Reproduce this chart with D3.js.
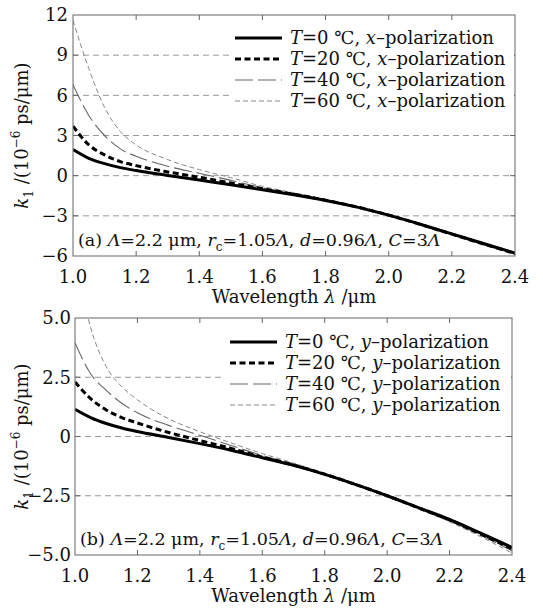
<!DOCTYPE html>
<html>
<head>
<meta charset="utf-8">
<script src="https://cdn.jsdelivr.net/npm/d3@7"></script>
<style>
  body { margin: 0; background: #fff; }
  svg text { font-family: "DejaVu Serif", serif; fill: #111; }
</style>
</head>
<body>
<svg id="chart" width="543" height="612"></svg>
<script>
// wavelength samples (um)
const wavelengths = [1.0, 1.05, 1.1, 1.15, 1.2, 1.3, 1.4, 1.5, 1.6, 1.7, 1.8, 1.9, 2.0, 2.1, 2.2, 2.3, 2.4];
const xTicks = [1.0, 1.2, 1.4, 1.6, 1.8, 2.0, 2.2, 2.4];
const temps = [0, 20, 40, 60];

// (a) x-polarization, k1 in 1e-6 ps/um
const kxT0 = [1.95, 1.3, 0.9, 0.6, 0.38, 0.02, -0.33, -0.68, -1.05, -1.43, -1.85, -2.35, -2.95, -3.63, -4.35, -5.07, -5.78];
const kxT20 = [3.7, 2.3, 1.55, 1.05, 0.75, 0.28, -0.12, -0.55, -0.98, -1.39, -1.83, -2.34, -2.95, -3.64, -4.37, -5.1, -5.81];
const kxT40 = [6.8, 4.5, 3.0, 2.0, 1.45, 0.7, 0.18, -0.35, -0.9, -1.34, -1.8, -2.33, -2.95, -3.65, -4.39, -5.12, -5.85];
const kxT60 = [11.6, 8.0, 5.1, 3.3, 2.3, 1.2, 0.45, -0.15, -0.8, -1.28, -1.77, -2.31, -2.96, -3.67, -4.42, -5.16, -5.9];
const yTicksA = [-6, -3, 0, 3, 6, 9, 12];

// (b) y-polarization
const kyT0 = [1.15, 0.8, 0.55, 0.36, 0.21, -0.04, -0.3, -0.58, -0.9, -1.22, -1.6, -2.03, -2.5, -3.0, -3.5, -4.08, -4.68];
const kyT20 = [2.3, 1.6, 1.12, 0.8, 0.57, 0.17, -0.17, -0.5, -0.87, -1.2, -1.59, -2.03, -2.5, -3.01, -3.52, -4.12, -4.74];
const kyT40 = [3.95, 2.65, 1.95, 1.4, 1.0, 0.47, 0.05, -0.38, -0.8, -1.16, -1.57, -2.02, -2.51, -3.03, -3.56, -4.17, -4.82];
const kyT60 = [7.6, 4.6, 2.95, 2.1, 1.55, 0.75, 0.2, -0.27, -0.72, -1.12, -1.55, -2.01, -2.52, -3.05, -3.6, -4.23, -4.92];
const yTicksB = [-5, -2.5, 0, 2.5, 5];

// line look per temperature
const styles = [
  {stroke: '#000', width: 3, dash: null},
  {stroke: '#000', width: 3, dash: '6,3.5'},
  {stroke: '#666', width: 1.1, dash: '18,5'},
  {stroke: '#888', width: 1, dash: '5,3'}
];

const svg = d3.select('#chart');

function drawPanel(cfg) {
  const x = d3.scaleLinear().domain([1.0, 2.4]).range([cfg.left, cfg.right]);
  const y = d3.scaleLinear().domain(cfg.yDomain).range([cfg.bottom, cfg.top]);
  const g = svg.append('g');

  g.append('clipPath').attr('id', cfg.id + '-clip')
    .append('rect')
    .attr('x', cfg.left).attr('y', cfg.top)
    .attr('width', cfg.right - cfg.left).attr('height', cfg.bottom - cfg.top);

  // grid
  g.selectAll('.grid')
    .data(cfg.yTicks.slice(1, -1))
    .enter()
    .append('line')
    .attr('x1', cfg.left).attr('x2', cfg.right)
    .attr('y1', (d)=> y(d)).attr('y2', (d)=> y(d))
    .attr('stroke', '#999').attr('stroke-width', 1)
    .attr('stroke-dasharray', '6,4');

  // curves
  const line = d3.line()
    .x((d)=> x(d[0]))
    .y((d)=> y(d[1]))
    .curve(d3.curveMonotoneX);
  const lg = g.append('g').attr('clip-path', `url(#${cfg.id}-clip)`);
  cfg.series.slice().reverse().forEach((vals, ri)=> {
    const i = cfg.series.length - 1 - ri;
    const s = styles[i];
    lg.append('path')
      .datum(wavelengths.map((w, j)=> [w, vals[j]]))
      .attr('d', line)
      .attr('fill', 'none')
      .attr('stroke', s.stroke)
      .attr('stroke-width', s.width)
      .attr('stroke-dasharray', s.dash);
  });

  // frame
  g.append('rect')
    .attr('x', cfg.left).attr('y', cfg.top)
    .attr('width', cfg.right - cfg.left).attr('height', cfg.bottom - cfg.top)
    .attr('fill', 'none').attr('stroke', '#666').attr('stroke-width', 1);

  // inward ticks
  const tl = 5;
  xTicks.slice(1, -1).forEach((t)=> {
    g.append('line').attr('x1', x(t)).attr('x2', x(t))
      .attr('y1', cfg.bottom).attr('y2', cfg.bottom - tl).attr('stroke', '#666');
    g.append('line').attr('x1', x(t)).attr('x2', x(t))
      .attr('y1', cfg.top).attr('y2', cfg.top + tl).attr('stroke', '#666');
  });
  cfg.yTicks.slice(1, -1).forEach((t)=> {
    g.append('line').attr('x1', cfg.left).attr('x2', cfg.left + tl)
      .attr('y1', y(t)).attr('y2', y(t)).attr('stroke', '#666');
    g.append('line').attr('x1', cfg.right).attr('x2', cfg.right - tl)
      .attr('y1', y(t)).attr('y2', y(t)).attr('stroke', '#666');
  });

  // tick labels
  g.selectAll('.xl')
    .data(xTicks)
    .enter()
    .append('text')
    .attr('x', (d)=> x(d))
    .attr('y', cfg.bottom + 27)
    .attr('text-anchor', 'middle')
    .style('font-size', '18px')
    .text(d3.format('.1f'));
  g.selectAll('.yl')
    .data(cfg.yTicks)
    .enter()
    .append('text')
    .attr('x', cfg.yLabelX)
    .attr('y', (d)=> y(d))
    .attr('dy', '0.35em')
    .attr('text-anchor', 'end')
    .style('font-size', '18px')
    .text((d)=> (d === 0 ? '0' : cfg.yFormat(d)).replace('-', '\u2212'));

  // axis titles
  const xt = g.append('text')
    .attr('x', (cfg.left + cfg.right) / 2)
    .attr('y', cfg.bottom + 47)
    .attr('text-anchor', 'middle')
    .style('font-size', '18px');
  xt.append('tspan').text('Wavelength ');
  xt.append('tspan').style('font-style', 'italic').text('\u03bb');
  xt.append('tspan').text(' /\u03bcm');

  const yt = g.append('text')
    .attr('transform', `translate(28,${(cfg.top + cfg.bottom) / 2}) rotate(-90)`)
    .attr('text-anchor', 'middle')
    .style('font-size', '18px');
  yt.append('tspan').style('font-style', 'italic').text('k');
  yt.append('tspan').attr('dy', 5).style('font-size', '12px').text('1');
  yt.append('tspan').attr('dy', -5).text(' /(10');
  yt.append('tspan').attr('dy', -8).style('font-size', '12px').text('\u22126');
  yt.append('tspan').attr('dy', 8).text(' ps/\u03bcm)');

  // legend box hides the grid behind it
  g.append('rect')
    .attr('x', cfg.legX - 6).attr('y', cfg.legY - 14)
    .attr('width', cfg.right - cfg.legX + 5).attr('height', 86)
    .attr('fill', '#fff');
  temps.forEach((t, i)=> {
    const ly = cfg.legY + i * 21;
    const s = styles[i];
    g.append('line')
      .attr('x1', cfg.legX).attr('x2', cfg.legX + 47)
      .attr('y1', ly).attr('y2', ly)
      .attr('stroke', s.stroke).attr('stroke-width', s.width)
      .attr('stroke-dasharray', s.dash);
    const lt = g.append('text')
      .attr('x', cfg.legX + 55).attr('y', ly)
      .attr('dy', '0.33em')
      .style('font-size', '18px');
    lt.append('tspan').style('font-style', 'italic').text('T');
    lt.append('tspan').text(`=${t} \u2103, `);
    lt.append('tspan').style('font-style', 'italic').text(cfg.pol);
    lt.append('tspan').text('\u2013polarization');
  });

  // parameter note
  const nt = g.append('text')
    .attr('x', cfg.left + 5).attr('y', cfg.bottom - 10)
    .style('font-size', '17.5px');
  const it = (s)=> nt.append('tspan').style('font-style', 'italic').text(s);
  const up = (s)=> nt.append('tspan').text(s);
  up(`(${cfg.tag}) `); it('\u039b'); up('=2.2 \u03bcm, ');
  it('r'); nt.append('tspan').attr('dy', 5).style('font-size', '12px').text('c');
  nt.append('tspan').attr('dy', -5).text('=1.05'); it('\u039b'); up(', ');
  it('d'); up('=0.96'); it('\u039b'); up(', ');
  it('C'); up('=3'); it('\u039b');
}

drawPanel({
  id: 'pa', tag: 'a', pol: 'x',
  left: 73, right: 515, top: 15, bottom: 256,
  yDomain: [-6, 12], yTicks: yTicksA, yFormat: d3.format('d'), yLabelX: 68,
  series: [kxT0, kxT20, kxT40, kxT60],
  legX: 235, legY: 38
});
drawPanel({
  id: 'pb', tag: 'b', pol: 'y',
  left: 75, right: 512, top: 318, bottom: 555,
  yDomain: [-5, 5], yTicks: yTicksB, yFormat: d3.format('.1f'), yLabelX: 71,
  series: [kyT0, kyT20, kyT40, kyT60],
  legX: 230, legY: 342
});
</script>
</body>
</html>
